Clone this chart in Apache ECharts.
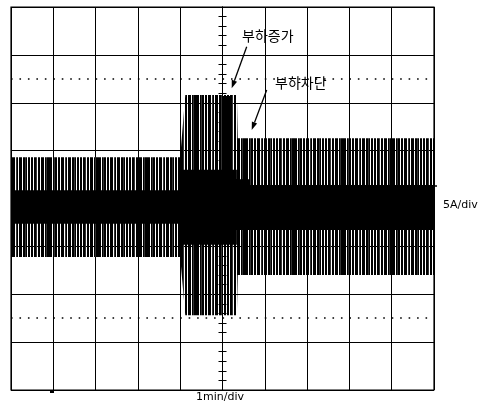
<!DOCTYPE html>
<html>
<head>
<meta charset="utf-8">
<script src="https://cdn.jsdelivr.net/npm/echarts@6/dist/echarts.min.js"></script>
<style>
  html, body { margin: 0; padding: 0; background: #fff; }
  #main { width: 493px; height: 404px; }
</style>
</head>
<body>
<div id="main"></div>
<script>
// 시간축: 화면 중앙 = 0 (1 min/div), 전류: A (5 A/div)
// 파형 바깥 포락선 (피크)
var outerT  = [-5, -1.0, -0.88, 0.34, 0.36, 5];
var outerHi = [4.3, 4.3, 10.8, 10.8, 6.3, 6.3];
var outerLo = [-6.1, -6.1, -12.2, -12.2, -8.0, -8.0];

// 파형 안쪽의 검게 채워진 부분
var denseT  = [-5, -1.0, -0.96, 0.0, 0.0, 0.18, 0.18, 0.34, 0.34, 0.65, 0.65, 5];
var denseHi = [0.86, 0.86, 3.0, 3.0, 10.7, 10.7, 3.0, 3.0, 2.0, 2.0, 1.4, 1.4];
var denseLo = [-2.65, -2.65, -4.84, -4.84, -4.84, -4.84, -4.84, -4.84, -3.3, -3.3, -3.3, -3.3];

// 점선 보조선 (A)
var dotLevels = [12.5, -12.5];

var chart = echarts.init(document.getElementById('main'));

// 세로 줄무늬 패턴 (오실로스코프 파형 질감)
function makeStripes() {
  var mask = '###.#+##.##.###.+#.###.##+#.##.##.##+.##.###.#+##';
  var c = document.createElement('canvas');
  c.width = mask.length;
  c.height = 8;
  var ctx = c.getContext('2d');
  for (var i = 0; i < mask.length; i++) {
    if (mask[i] === '#') ctx.fillStyle = '#000';
    else if (mask[i] === '+') ctx.fillStyle = '#333';
    else continue;
    ctx.fillRect(i, 0, 1, c.height);
  }
  return c;
}
var stripes = { image: makeStripes(), repeat: 'repeat' };

// 포락선 배열로 다각형 하나를 그리는 시리즈
function bandSeries(ts, his, los, fill) {
  return {
    type: 'custom',
    coordinateSystem: 'cartesian2d',
    silent: true,
    animation: false,
    data: ts.map(function (t, i) { return [t, his[i], los[i]]; }),
    renderItem: function (params, api) {
      if (params.dataIndex !== 0) return null;
      var pts = [];
      for (var i = 0; i < ts.length; i++) pts.push(api.coord([ts[i], his[i]]));
      for (var j = ts.length - 1; j >= 0; j--) pts.push(api.coord([ts[j], los[j]]));
      return { type: 'polygon', shape: { points: pts }, style: { fill: fill } };
    }
  };
}

// 화살표 (주석)
function arrow(x1, y1, x2, y2) {
  var dx = x2 - x1, dy = y2 - y1;
  var len = Math.sqrt(dx * dx + dy * dy);
  var ux = dx / len, uy = dy / len;
  var bx = x2 - ux * 8, by = y2 - uy * 8;
  return [
    { type: 'line', shape: { x1: x1, y1: y1, x2: bx, y2: by }, style: { stroke: '#000', lineWidth: 1.3 } },
    { type: 'polygon', shape: { points: [[x2, y2], [bx - uy * 2.8, by + ux * 2.8], [bx + uy * 2.8, by - ux * 2.8]] }, style: { fill: '#000' } }
  ];
}

var gridLine = { show: true, lineStyle: { color: '#000', width: 1 } };

// 중앙 세로축의 눈금 (양쪽으로)
function centerAxis(inside, withGrid) {
  return {
    type: 'value', min: -20, max: 20, interval: 5, position: 'left', offset: -211.5,
    axisLine: { show: true, onZero: false, lineStyle: { color: '#000', width: 1 } },
    axisTick: { show: true, inside: inside, length: 4, lineStyle: { color: '#000' } },
    minorTick: { show: true, splitNumber: 5, length: 4, lineStyle: { color: '#000', width: 1 } },
    axisLabel: { show: false },
    splitLine: withGrid ? gridLine : { show: false }
  };
}

var option = {
  animation: false,
  grid: { left: 11, top: 7, width: 423, height: 383, show: true, borderColor: '#000', borderWidth: 1.2 },
  xAxis: {
    type: 'value', min: -5, max: 5, interval: 1,
    axisLine: { show: false }, axisTick: { show: false }, axisLabel: { show: false },
    splitLine: gridLine
  },
  yAxis: [centerAxis(false, true), centerAxis(true, false)],
  series: [
    {
      type: 'line', data: [], silent: true,
      markLine: {
        silent: true, symbol: 'none', label: { show: false },
        lineStyle: { color: '#000', width: 1.6, type: [1.6, 6.86] },
        data: dotLevels.map(function (v) { return { yAxis: v }; })
      }
    },
    bandSeries(outerT, outerHi, outerLo, stripes),
    bandSeries(denseT, denseHi, denseLo, '#000')
  ],
  graphic: [
    { type: 'text', left: 443, top: 200, style: { text: '5A/div', font: '11px "DejaVu Sans"', fill: '#000' } },
    { type: 'text', left: 196, top: 392, style: { text: '1min/div', font: '11px "DejaVu Sans"', fill: '#000' } },
    { type: 'text', left: 242, top: 29, style: { text: '부하증가', font: '14px "Noto Sans CJK KR"', fill: '#000' } },
    { type: 'text', left: 275, top: 76, style: { text: '부하차단', font: '14px "Noto Sans CJK KR"', fill: '#000' } },
    { type: 'rect', shape: { x: 50, y: 390, width: 4, height: 3 }, style: { fill: '#000' } },
    { type: 'line', shape: { x1: 434, y1: 186, x2: 437, y2: 186 }, style: { stroke: '#000', lineWidth: 1.5 } }
  ].concat(arrow(246.7, 46.7, 231.7, 88.3)).concat(arrow(266.7, 90, 251.7, 130))
};

chart.setOption(option);
</script>
</body>
</html>
